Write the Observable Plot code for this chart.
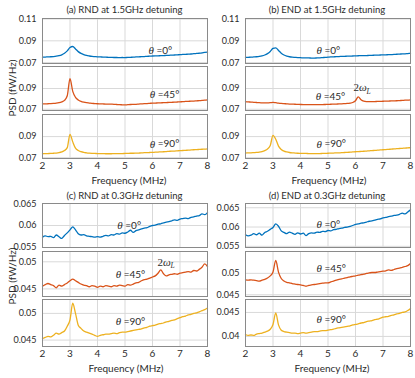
<!DOCTYPE html>
<html><head><meta charset="utf-8">
<script src="https://cdn.jsdelivr.net/npm/d3@7"></script>
<script src="https://cdn.jsdelivr.net/npm/@observablehq/plot@0.6"></script>
<style>
body{margin:0;background:#fff;}
#root{position:relative;width:415px;height:378px;overflow:hidden;font-family:Lato,"Open Sans",sans-serif;color:#2b2b2b;}
.t{position:absolute;white-space:nowrap;line-height:1;}
.ttl{font-size:9.5px;transform:translate(-50%,-50%);}
.xl{font-size:10px;transform:translate(-50%,-50%);}
.yl{font-size:10px;transform:translate(-50%,-50%) rotate(-90deg);}
svg{position:absolute;overflow:visible;}
</style></head><body><div id="root"></div>
<script>
const freq = [2.0,2.1,2.2,2.3,2.4,2.5,2.6,2.7,2.8,2.9,3.0,3.1,3.2,3.3,3.4,3.5,3.6,3.7,3.8,3.9,4.0,4.1,4.2,4.3,4.4,4.5,4.6,4.7,4.8,4.9,5.0,5.1,5.2,5.3,5.4,5.5,5.6,5.7,5.8,5.9,6.0,6.1,6.2,6.3,6.4,6.5,6.6,6.7,6.8,6.9,7.0,7.1,7.2,7.3,7.4,7.5,7.6,7.7,7.8,7.9,8.0];

const aTheta0 = [.0750,.0751,.0753,.0754,.0756,.0759,.0764,.0772,.0786,.0808,.0838,.0848,.0826,.0801,.0785,.0774,.0766,.0761,.0757,.0755,.0753,.0752,.0751,.0750,.0749,.0748,.0747,.0747,.0746,.0747,.0746,.0748,.0749,.0750,.0752,.0753,.0755,.0756,.0758,.0759,.0761,.0762,.0762,.0764,.0765,.0766,.0767,.0769,.0770,.0772,.0773,.0775,.0776,.0778,.0779,.0782,.0784,.0786,.0789,.0795,.0796];
const aTheta45 = [.0752,.0752,.0753,.0754,.0756,.0759,.0764,.0772,.0786,.0830,.0995,.0872,.0815,.0790,.0776,.0768,.0763,.0760,.0757,.0755,.0753,.0752,.0751,.0750,.0750,.0749,.0748,.0746,.0744,.0743,.0742,.0744,.0746,.0747,.0748,.0750,.0752,.0754,.0755,.0757,.0759,.0760,.0761,.0762,.0763,.0764,.0766,.0767,.0768,.0770,.0772,.0773,.0775,.0776,.0778,.0779,.0781,.0783,.0785,.0787,.0790];
const aTheta90 = [.0737,.0738,.0739,.0740,.0742,.0744,.0748,.0755,.0768,.0795,.0922,.0850,.0790,.0768,.0757,.0750,.0746,.0743,.0741,.0740,.0739,.0738,.0738,.0737,.0737,.0737,.0738,.0738,.0739,.0739,.0740,.0741,.0742,.0742,.0743,.0744,.0745,.0747,.0748,.0749,.0750,.0752,.0753,.0755,.0756,.0758,.0760,.0762,.0763,.0765,.0767,.0768,.0770,.0771,.0773,.0775,.0776,.0778,.0780,.0781,.0783];

const bTheta0 = [.0748,.0749,.0750,.0752,.0754,.0757,.0762,.0770,.0783,.0803,.0830,.0835,.0812,.0787,.0770,.0760,.0754,.0750,.0748,.0746,.0745,.0744,.0743,.0743,.0742,.0742,.0743,.0744,.0746,.0748,.0750,.0752,.0753,.0755,.0756,.0757,.0758,.0759,.0760,.0761,.0762,.0763,.0764,.0764,.0765,.0766,.0767,.0768,.0769,.0770,.0771,.0772,.0773,.0774,.0775,.0777,.0778,.0780,.0781,.0783,.0785];
const bTheta45 = [.0773,.0771,.0769,.0767,.0765,.0763,.0762,.0761,.0761,.0763,.0767,.0763,.0759,.0756,.0754,.0752,.0750,.0749,.0748,.0747,.0746,.0745,.0745,.0744,.0744,.0744,.0744,.0745,.0745,.0746,.0747,.0748,.0749,.0750,.0751,.0752,.0754,.0756,.0759,.0765,.0782,.0820,.0792,.0778,.0774,.0773,.0773,.0774,.0775,.0776,.0777,.0778,.0779,.0780,.0781,.0782,.0784,.0785,.0787,.0788,.0790];
const bTheta90 = [.0744,.0745,.0746,.0748,.0750,.0753,.0758,.0767,.0782,.0815,.0912,.0875,.0810,.0778,.0762,.0754,.0749,.0746,.0744,.0742,.0741,.0740,.0740,.0739,.0739,.0738,.0739,.0739,.0740,.0741,.0742,.0743,.0744,.0745,.0746,.0747,.0749,.0750,.0752,.0754,.0756,.0757,.0759,.0761,.0763,.0765,.0767,.0769,.0771,.0773,.0775,.0777,.0779,.0781,.0783,.0785,.0787,.0789,.0791,.0793,.0795];

const cTheta0 = [.0573,.0576,.0574,.0575,.0572,.0578,.0574,.0570,.0577,.0583,.0590,.0597,.0590,.0581,.0578,.0579,.0576,.0575,.0574,.0573,.0574,.0573,.0575,.0577,.0576,.0579,.0578,.0581,.0580,.0583,.0582,.0585,.0589,.0584,.0588,.0590,.0592,.0594,.0595,.0598,.0600,.0601,.0603,.0604,.0606,.0608,.0609,.0611,.0613,.0612,.0615,.0616,.0617,.0616,.0619,.0620,.0622,.0623,.0627,.0625,.0630];
const cTheta45 = [.0455,.0458,.0460,.0458,.0456,.0452,.0457,.0455,.0458,.0461,.0465,.0468,.0465,.0462,.0459,.0457,.0456,.0454,.0456,.0455,.0453,.0455,.0454,.0456,.0455,.0454,.0456,.0455,.0457,.0456,.0455,.0458,.0457,.0459,.0461,.0462,.0465,.0467,.0468,.0470,.0472,.0474,.0479,.0485,.0478,.0474,.0476,.0477,.0478,.0477,.0479,.0480,.0481,.0482,.0481,.0484,.0483,.0486,.0490,.0496,.0491];
const cTheta90 = [.0453,.0455,.0457,.0456,.0459,.0463,.0461,.0464,.0467,.0476,.0488,.0519,.0500,.0478,.0472,.0467,.0465,.0463,.0461,.0459,.0457,.0459,.0460,.0461,.0461,.0462,.0463,.0462,.0464,.0465,.0465,.0466,.0467,.0468,.0469,.0470,.0471,.0473,.0474,.0476,.0477,.0478,.0480,.0481,.0482,.0484,.0485,.0487,.0488,.0490,.0492,.0494,.0495,.0497,.0498,.0500,.0501,.0503,.0505,.0507,.0510];

const dTheta0 = [.0580,.0577,.0579,.0583,.0580,.0584,.0579,.0586,.0589,.0594,.0599,.0608,.0602,.0590,.0586,.0583,.0587,.0584,.0581,.0585,.0582,.0584,.0578,.0583,.0585,.0584,.0587,.0586,.0589,.0588,.0591,.0590,.0593,.0594,.0596,.0597,.0599,.0600,.0602,.0604,.0607,.0608,.0610,.0611,.0613,.0615,.0616,.0618,.0620,.0621,.0624,.0625,.0627,.0628,.0630,.0631,.0633,.0636,.0634,.0639,.0645];
const dTheta45 = [.0485,.0484,.0485,.0484,.0483,.0482,.0484,.0486,.0489,.0494,.0503,.0530,.0503,.0488,.0482,.0479,.0478,.0476,.0475,.0474,.0473,.0472,.0470,.0472,.0473,.0474,.0475,.0476,.0477,.0478,.0478,.0480,.0482,.0484,.0486,.0487,.0489,.0490,.0492,.0493,.0494,.0496,.0497,.0498,.0500,.0501,.0502,.0502,.0503,.0504,.0505,.0506,.0508,.0507,.0509,.0511,.0512,.0514,.0516,.0518,.0523];
const dTheta90 = [.0404,.0402,.0403,.0402,.0405,.0406,.0407,.0409,.0411,.0415,.0425,.0449,.0424,.0413,.0410,.0409,.0408,.0407,.0407,.0406,.0407,.0408,.0407,.0408,.0409,.0410,.0410,.0411,.0412,.0412,.0413,.0414,.0415,.0417,.0418,.0419,.0420,.0421,.0422,.0424,.0425,.0426,.0428,.0429,.0431,.0432,.0433,.0435,.0436,.0438,.0440,.0441,.0442,.0444,.0445,.0447,.0448,.0450,.0451,.0454,.0458];

const titles = ["(a) RND at 1.5GHz detuning","(b) END at 1.5GHz detuning","(c) RND at 0.3GHz detuning","(d) END at 0.3GHz detuning"];
const thetaText = ["=0°","=45°","=90°"];
const xTicks = [2,3,4,5,6,7,8];
const yTicksAB = [[0.07,0.09,0.11],[0.07,0.09],[0.07,0.09]];
const yTicksC = [[0.055,0.06,0.065],[0.045,0.05],[0.045,0.05]];
const yTicksD = [[0.055,0.06,0.065],[0.045,0.05],[0.04,0.045]];
const xLabel = "Frequency (MHz)";
const yLabel = "PSD (fW/Hz)";
const colors = ["#0072BD","#D95319","#EDB120"];

const root = document.getElementById("root");
const FONT = "Lato, 'Open Sans', sans-serif";
const SERIF = "'Liberation Serif','DejaVu Serif',serif";

const panels = [
  {left:42, tops:[18,66,114], heights:[45,44,44], domains:[[0.0692,0.1105],[0.0688,0.1112],[0.0692,0.111]], ticks:yTicksAB,
   series:[aTheta0,aTheta45,aTheta90], lab:[[5.85,0.0811],[5.9,0.0839],[5.9,0.0827]], two:null,
   title:[124.5,10], xl:[129,179.5], yl:[12,88]},
  {left:245, tops:[18,66,114], heights:[45,44,44], domains:[[0.0692,0.1105],[0.0688,0.1112],[0.0692,0.111]], ticks:yTicksAB,
   series:[bTheta0,bTheta45,bTheta90], lab:[[4.58,0.0811],[4.55,0.0824],[4.58,0.0827]], two:[1,5.93,0.0907],
   title:[327,10], xl:[329,179.5], yl:null},
  {left:42, tops:[203,251,299], heights:[44,45,47], domains:[[0.0549,0.0651],[0.0436,0.0519],[0.0438,0.0526]], ticks:yTicksC,
   series:[cTheta0,cTheta45,cTheta90], lab:[[4.72,0.05995],[4.66,0.04769],[4.66,0.04844]], two:[1,6.18,0.0499],
   title:[124.5,196], xl:[126,368], yl:[12,276]},
  {left:245, tops:[203,251,299], heights:[44,45,47], domains:[[0.0547,0.0661],[0.0446,0.0551],[0.0379,0.0477]], ticks:yTicksD,
   series:[dTheta0,dTheta45,dTheta90], lab:[[4.58,0.06071],[4.58,0.05118],[4.58,0.04357]], two:null,
   title:[327,196], xl:[332,368], yl:null}
];

const ML = 40, MR = 6, MT = 8, FW = 165;

panels.forEach((p, pi) => {
  for (let k = 0; k < 3; k++) {
    const bottom = k === 2;
    const MB = bottom ? 20 : 6;
    const rows = freq.map((f, i) => ({f, v: p.series[k][i]}));
    const [d0, d1] = p.domains[k];
    const inner = p.ticks[k].filter(t => t > d0 + 1e-4 && t < d1 - 1e-4);
    const marks = [
      Plot.gridX([3,4,5,6,7], {stroke:"#d9d9d9", strokeOpacity:1}),
      Plot.gridY(inner, {stroke:"#d9d9d9", strokeOpacity:1}),
      Plot.line(rows, {x:"f", y:"v", stroke:colors[k], strokeWidth:1.3, curve:"monotone-x"}),
      Plot.frame({stroke:"#8a8a8a"}),
      Plot.axisY(p.ticks[k], {tickSize:0, tickPadding:6, fontSize:9, tickFormat:d => String(d), label:null}),
      Plot.text([{x:p.lab[k][0], y:p.lab[k][1]}], {x:"x", y:"y", text:() => "θ", textAnchor:"start", fontStyle:"italic", fontFamily:SERIF, fontSize:11}),
      Plot.text([{x:p.lab[k][0], y:p.lab[k][1], t:thetaText[k]}], {x:"x", y:"y", text:"t", textAnchor:"start", dx:8, fontSize:10})
    ];
    if (bottom) marks.push(Plot.axisX(xTicks, {tickSize:0, tickPadding:3, fontSize:10, label:null}));
    if (p.two && p.two[0] === k) {
      const pt = [{x:p.two[1], y:p.two[2]}];
      marks.push(Plot.text(pt, {x:"x", y:"y", text:() => "2", textAnchor:"start", fontFamily:SERIF, fontSize:11}));
      marks.push(Plot.text(pt, {x:"x", y:"y", text:() => "ω", textAnchor:"start", dx:5.5, fontStyle:"italic", fontFamily:SERIF, fontSize:11}));
      marks.push(Plot.text(pt, {x:"x", y:"y", text:() => "L", textAnchor:"start", dx:13, dy:3.5, fontStyle:"italic", fontFamily:SERIF, fontSize:7.5}));
    }
    const svg = Plot.plot({
      width: ML + FW + MR, height: MT + p.heights[k] + MB,
      marginLeft: ML, marginRight: MR, marginTop: MT, marginBottom: MB,
      x: {domain:[2,8], axis:null},
      y: {domain:[d0,d1], axis:null},
      style: {fontFamily: FONT, fontSize:"9px", color:"#2b2b2b", background:"transparent", overflow:"visible"},
      marks
    });
    svg.style.left = (p.left - ML) + "px";
    svg.style.top = (p.tops[k] - MT) + "px";
    root.appendChild(svg);
  }
  const addText = (cls, txt, xy) => {
    const d = document.createElement("div");
    d.className = "t " + cls;
    d.textContent = txt;
    d.style.left = xy[0] + "px";
    d.style.top = xy[1] + "px";
    root.appendChild(d);
  };
  addText("ttl", titles[pi], p.title);
  addText("xl", xLabel, p.xl);
  if (p.yl) addText("yl", yLabel, p.yl);
});
</script>
</body></html>
